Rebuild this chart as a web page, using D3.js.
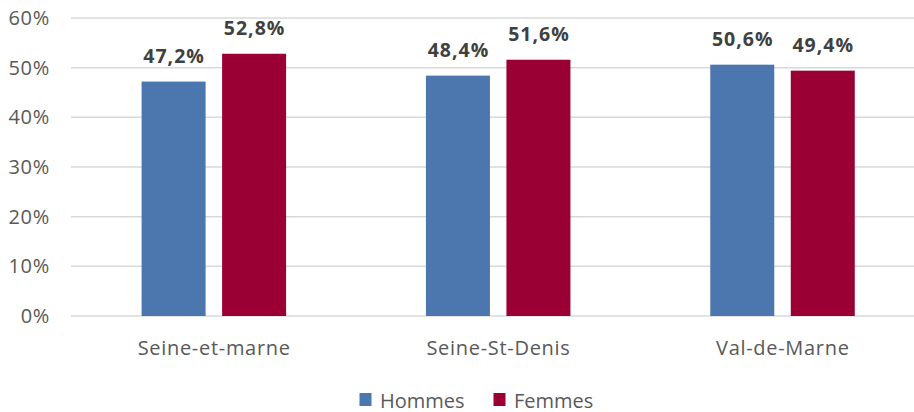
<!DOCTYPE html>
<html>
<head>
<meta charset="utf-8">
<script src="https://cdn.jsdelivr.net/npm/d3@7"></script>
<style>
  body { margin: 0; background: #fff; }
  text { font-family: "Open Sans", "Noto Sans", sans-serif; }
</style>
</head>
<body>
<svg id="chart" width="914" height="412"></svg>
<script>
// data
var departements = ["Seine-et-marne", "Seine-St-Denis", "Val-de-Marne"];
var series = ["Hommes", "Femmes"];
var hommes = [47.2, 48.4, 50.6];
var femmes = [52.8, 51.6, 49.4];
var yTicks = [0, 10, 20, 30, 40, 50, 60];
var colors = ["#4c77ae", "#9b0034"];

var svg = d3.select("#chart");

var x = d3.scaleBand().domain(departements).range([71.6, 924.6]).paddingInner(0).paddingOuter(0);
var x1 = d3.scaleBand().domain(series).range([70, 214.5]).paddingInner(0.205);
var y = d3.scaleLinear().domain([0, 60]).range([316, 18]);

// gridlines
svg.append("g").selectAll("line").data(yTicks).enter().append("line")
  .attr("x1", 71).attr("x2", 914)
  .attr("y1", function(d) { return y(d); }).attr("y2", function(d) { return y(d); })
  .attr("stroke", "#d9d9d9").attr("stroke-width", 1.5);

// y labels
svg.append("g").selectAll("text").data(yTicks).enter().append("text")
  .attr("x", 50).attr("y", function(d) { return y(d) + 7; })
  .attr("text-anchor", "end").attr("font-size", 20).attr("letter-spacing", "0.7px")
  .attr("fill", "#595959")
  .text(function(d) { return d + "%"; });

var rows = departements.map(function(d, i) {
  return { dep: d, vals: [ { s: series[0], v: hommes[i] }, { s: series[1], v: femmes[i] } ] };
});

var g = svg.append("g").selectAll("g").data(rows).enter().append("g")
  .attr("transform", function(d) { return "translate(" + x(d.dep) + ",0)"; });

g.selectAll("rect").data(function(d) { return d.vals; }).enter().append("rect")
  .attr("x", function(d) { return x1(d.s); })
  .attr("width", x1.bandwidth())
  .attr("y", function(d) { return y(d.v); })
  .attr("height", function(d) { return y(0) - y(d.v); })
  .attr("fill", function(d, i) { return colors[i]; });

g.selectAll("text.val").data(function(d) { return d.vals; }).enter().append("text")
  .attr("class", "val")
  .attr("x", function(d) { return x1(d.s) + x1.bandwidth() / 2 + 0.5; })
  .attr("y", function(d) { return y(d.v) - 19; })
  .attr("text-anchor", "middle").attr("font-size", 19.5).attr("font-weight", "bold")
  .attr("letter-spacing", "1px").attr("fill", "#404040")
  .text(function(d) { return d.v.toFixed(1).replace(".", ",") + "%"; });

// category labels
svg.append("g").selectAll("text").data(departements).enter().append("text")
  .attr("x", function(d) { return x(d) + x.bandwidth() / 2 + 0.4; })
  .attr("y", 355)
  .attr("text-anchor", "middle").attr("font-size", 20).attr("letter-spacing", "0.7px")
  .attr("fill", "#595959")
  .text(function(d) { return d; });

// legend
var legX = [359.5, 493.5];
var leg = svg.append("g").selectAll("g").data(series).enter().append("g")
  .attr("transform", function(d, i) { return "translate(" + legX[i] + ",393)"; });
leg.append("rect").attr("x", 0).attr("y", 0).attr("width", 12).attr("height", 13)
  .attr("fill", function(d, i) { return colors[i]; });
leg.append("text").attr("x", 20.5).attr("y", 14.5).attr("font-size", 20)
  .attr("fill", "#595959")
  .text(function(d) { return d; });
</script>
</body>
</html>
